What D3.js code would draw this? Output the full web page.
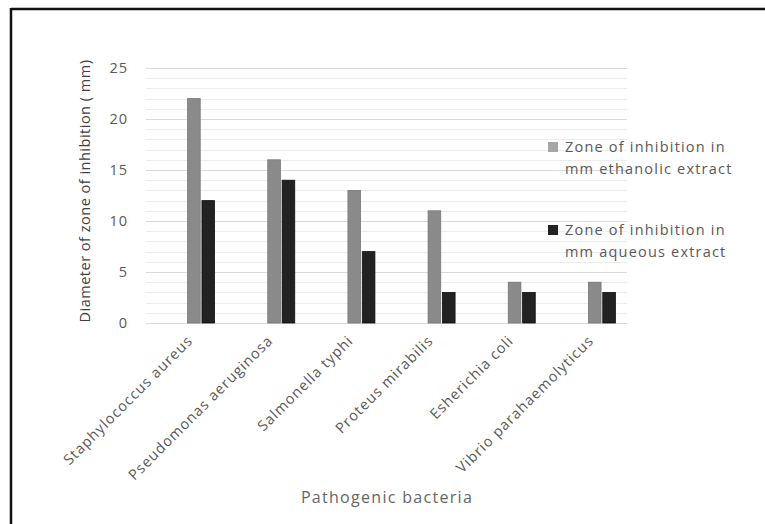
<!DOCTYPE html>
<html><head><meta charset="utf-8">
<script src="https://cdn.jsdelivr.net/npm/d3@7"></script>
<style>body{margin:0;background:#fff}svg{display:block}</style>
</head><body><svg id="c" width="765" height="524"></svg>
<script>
const categories = ["Staphylococcus aureus","Pseudomonas aeruginosa","Salmonella typhi","Proteus mirabilis","Esherichia coli","Vibrio parahaemolyticus"];
const ethanolic = [22,16,13,11,4,4];
const aqueous = [12,14,7,3,3,3];
const seriesNames = ["Zone of inhibition in|mm ethanolic extract","Zone of inhibition in|mm aqueous extract"];
const yTicks = [0,5,10,15,20,25];

const svg = d3.select("#c");
const font = "'Open Sans', sans-serif";
// frame
svg.append("line").attr("x1",11).attr("x2",765).attr("y1",9).attr("y2",9).attr("stroke","#111").attr("stroke-width",2.5);
svg.append("line").attr("x1",11).attr("x2",11).attr("y1",8).attr("y2",524).attr("stroke","#111").attr("stroke-width",2.5);

const gx0 = 146, gx1 = 627;
const y = d3.scaleLinear().domain([0,25]).range([323,68]);
const x = d3.scaleBand().domain(categories).range([161,642]).paddingInner(0).paddingOuter(0);
const xs = d3.scaleBand().domain([0,1]).range([0,27]).paddingInner(0.12);

// minor gridlines
svg.append("g").selectAll("line").data(d3.range(0,26)).join("line")
  .attr("x1",gx0).attr("x2",gx1).attr("y1",d=>Math.round(y(d))+0.5).attr("y2",d=>Math.round(y(d))+0.5)
  .attr("stroke",d=>d%5===0?"#d9d9d9":"#ececec").attr("stroke-width",1);

// y tick labels
svg.append("g").selectAll("text").data(yTicks).join("text")
  .attr("x",128).attr("y",d=>y(d)+5).attr("text-anchor","end")
  .attr("font-family",font).attr("font-size",14.5).attr("letter-spacing",1).attr("fill","#595959").text(d=>d);

// bars
const data = categories.map((c,i)=>({c, v:[ethanolic[i],aqueous[i]]}));
const colors = ["#8a8a8a","#222222"];
const g = svg.append("g");
data.forEach(d=>{
  d.v.forEach((v,j)=>{
    g.append("rect").attr("x",x(d.c)+x.bandwidth()/2-13.5+xs(j)).attr("width",xs.bandwidth())
     .attr("y",y(v)).attr("height",y(0)-y(v)).attr("fill",colors[j])
     .attr("stroke",j===0?"#777":"#111").attr("stroke-width",0.8);
  });
});

// x labels
svg.append("g").selectAll("text").data(categories).join("text")
  .attr("transform",d=>`translate(${x(d)+x.bandwidth()/2-11},${338}) rotate(-45)`)
  .attr("text-anchor","end").attr("dy","0.35em").attr("letter-spacing",1.0)
  .attr("font-family",font).attr("font-size",14.5).attr("fill","#595959").text(d=>d);

// axis titles
svg.append("text").attr("transform","translate(85,191) rotate(-90)").attr("text-anchor","middle")
  .attr("dy","0.35em").attr("font-family",font).attr("font-size",14.5).attr("letter-spacing",0.5).attr("fill","#404040")
  .text("Diameter of zone of inhibition ( mm)");
svg.append("text").attr("x",387).attr("y",503).attr("text-anchor","middle")
  .attr("font-family",font).attr("font-size",16).attr("letter-spacing",1.3).attr("fill","#666").text("Pathogenic bacteria");

// legend
const legColors = ["#a6a6a6","#222222"];
const legY = [142,225];
seriesNames.forEach((n,i)=>{
  svg.append("rect").attr("x",548).attr("y",legY[i]).attr("width",10).attr("height",10).attr("fill",legColors[i]);
  const lines = n.split("|");
  lines.forEach((l,k)=>{
    svg.append("text").attr("x",565).attr("y",legY[i]+10+k*22).attr("font-family",font)
      .attr("font-size",14.5).attr("letter-spacing",1.2).attr("fill","#595959").text(l);
  });
});
</script></body></html>
